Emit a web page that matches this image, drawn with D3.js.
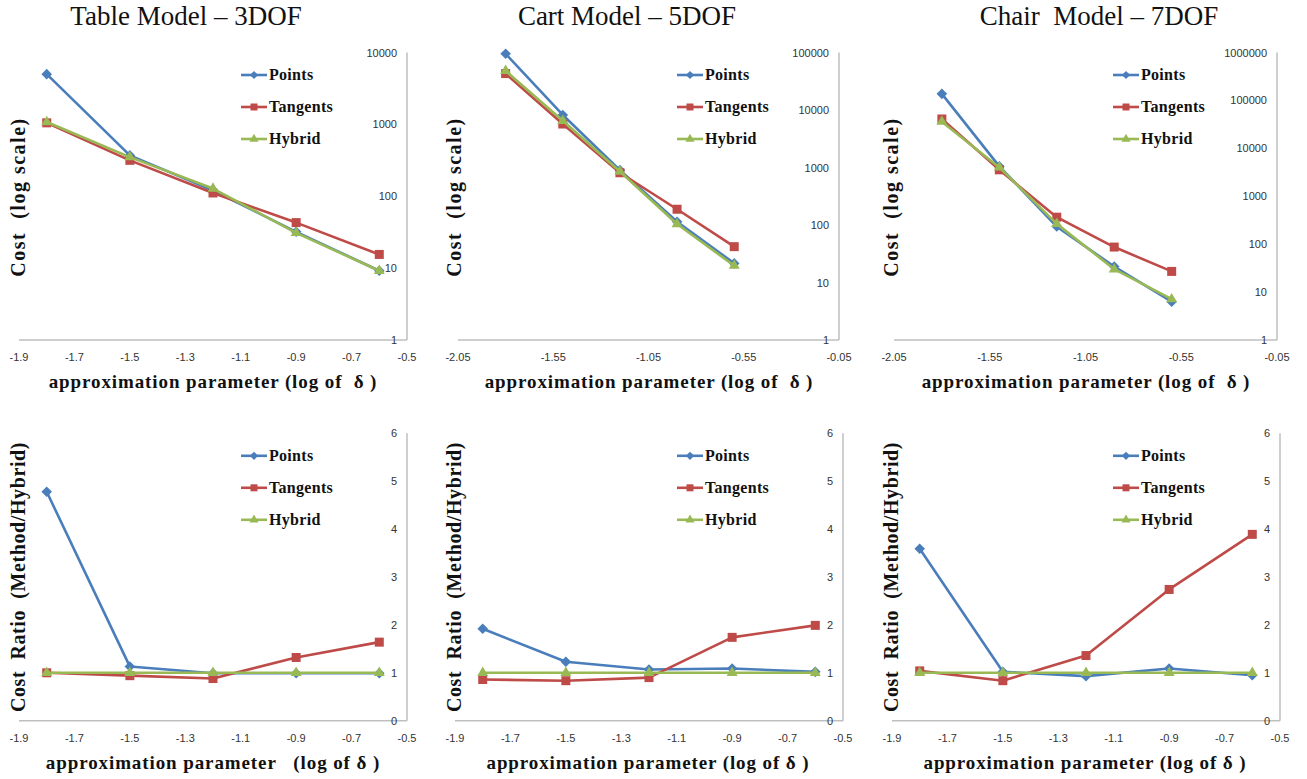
<!DOCTYPE html>
<html lang="en">
<head>
<meta charset="UTF-8">
<title>Cost vs approximation parameter</title>
<script src="https://d3js.org/d3.v7.min.js"></script>
<style>
  body { margin: 0; background: #fff; }
  text { white-space: pre; }
</style>
</head>
<body>
<div id="chart"></div>
<script>
// x positions (log of delta) shared by all panels
var xVals = [-1.8, -1.5, -1.2, -0.9, -0.6];

// top row: cost (log scale)
var tablePoints   = [5000, 370, 120, 32, 9.2];
var tableTangents = [1050, 316, 111, 43, 15.5];
var tableHybrid   = [1080, 350, 128, 31, 9.2];
var cartPoints    = [95000, 8200, 900, 114, 21.5];
var cartTangents  = [43000, 5700, 810, 188, 42];
var cartHybrid    = [48000, 6500, 850, 104, 19.6];
var chairPoints   = [137000, 4200, 233, 34, 6.3];
var chairTangents = [41000, 3560, 366, 87, 27];
var chairHybrid   = [36000, 4000, 265, 30, 7.1];

// bottom row: cost ratio (method / hybrid)
var tableRatioPoints   = [4.78, 1.13, 0.99, 0.99, 0.99];
var tableRatioTangents = [1.0, 0.94, 0.88, 1.32, 1.64];
var tableRatioHybrid   = [1, 1, 1, 1, 1];
var cartRatioPoints    = [1.92, 1.23, 1.07, 1.09, 1.02];
var cartRatioTangents  = [0.86, 0.835, 0.9, 1.74, 1.99];
var cartRatioHybrid    = [1, 1, 1, 1, 1];
var chairRatioPoints   = [3.59, 1.02, 0.93, 1.09, 0.95];
var chairRatioTangents = [1.04, 0.835, 1.36, 2.74, 3.89];
var chairRatioHybrid   = [1, 1, 1, 1, 1];

// tick labels
var xTicksA = [-1.9, -1.7, -1.5, -1.3, -1.1, -0.9, -0.7, -0.5];
var xTicksB = [-2.05, -1.55, -1.05, -0.55, -0.05];
var logTicks4 = [1, 10, 100, 1000, 10000];
var logTicks5 = [1, 10, 100, 1000, 10000, 100000];
var logTicks6 = [1, 10, 100, 1000, 10000, 100000, 1000000];
var ratioTicks = [0, 1, 2, 3, 4, 5, 6];

var seriesNames = ["Points", "Tangents", "Hybrid"];
var titles = ["Table Model \u2013 3DOF", "Cart Model \u2013 5DOF", "Chair  Model \u2013 7DOF"];

var colors = {Points: "#4A7EBB", Tangents: "#BE4B48", Hybrid: "#98B954"};

var W = 1307, H = 779;
var svg = d3.select("#chart").append("svg")
    .attr("width", W).attr("height", H)
    .style("display", "block");

// panel layout
var panels = [
  {x0: 19, x1: 407, top: 52.5, bot: 340, titleX: 186, log: true, yTicks: logTicks4,
   xTicks: xTicksA, data: [tablePoints, tableTangents, tableHybrid],
   ylab: "Cost  (log scale)", ylabX: 18, xlab: "approximation parameter (log of  \u03b4 )", xlabX: 213, legX: 241},
  {x0: 458, x1: 839, top: 52.5, bot: 340, titleX: 627, log: true, yTicks: logTicks5,
   xTicks: xTicksB, data: [cartPoints, cartTangents, cartHybrid],
   ylab: "Cost  (log scale)", ylabX: 454, xlab: "approximation parameter (log of  \u03b4 )", xlabX: 649, legX: 677},
  {x0: 894, x1: 1277, top: 52.5, bot: 340, titleX: 1099, log: true, yTicks: logTicks6,
   xTicks: xTicksB, data: [chairPoints, chairTangents, chairHybrid],
   ylab: "Cost  (log scale)", ylabX: 891, xlab: "approximation parameter (log of  \u03b4 )", xlabX: 1086, legX: 1113},
  {x0: 19, x1: 407, top: 433.3, bot: 720.7, log: false, yTicks: ratioTicks,
   xTicks: xTicksA, data: [tableRatioPoints, tableRatioTangents, tableRatioHybrid],
   ylab: "Cost  Ratio  (Method/Hybrid)", ylabX: 18, xlab: "approximation parameter   (log of \u03b4 )", xlabX: 213, legX: 241},
  {x0: 455, x1: 843, top: 433.3, bot: 720.7, log: false, yTicks: ratioTicks,
   xTicks: xTicksA, data: [cartRatioPoints, cartRatioTangents, cartRatioHybrid],
   ylab: "Cost  Ratio  (Method/Hybrid)", ylabX: 454, xlab: "approximation parameter (log of \u03b4 )", xlabX: 648, legX: 677},
  {x0: 892, x1: 1280, top: 433.3, bot: 720.7, log: false, yTicks: ratioTicks,
   xTicks: xTicksA, data: [chairRatioPoints, chairRatioTangents, chairRatioHybrid],
   ylab: "Cost  Ratio  (Method/Hybrid)", ylabX: 891, xlab: "approximation parameter (log of \u03b4 )", xlabX: 1085, legX: 1113}
];

// markers: diamond (rotated square), square, triangle
function symbolFor(name, big) {
  if (name === "Points") return d3.symbol(d3.symbolSquare, big ? 56 : 34)();
  if (name === "Tangents") return d3.symbol(d3.symbolSquare, big ? 81 : 49)();
  return d3.symbol(d3.symbolTriangle, big ? 52 : 36)();
}

panels.forEach(function(p, pi) {
  var g = svg.append("g");
  var xMin = p.xTicks[0], xMax = p.xTicks[p.xTicks.length - 1];
  var x = d3.scaleLinear().domain([xMin, xMax]).range([p.x0, p.x1]);
  var y = p.log
    ? d3.scaleLog().domain([1, p.yTicks[p.yTicks.length - 1]]).range([p.bot, p.top])
    : d3.scaleLinear().domain([0, 6]).range([p.bot, p.top]);

  // title
  if (p.titleX) {
    svg.append("text")
      .attr("x", p.titleX).attr("y", 25)
      .attr("text-anchor", "middle")
      .style("font-family", "'Liberation Serif', serif")
      .style("font-size", "27px")
      .style("fill", "#111")
      .text(titles[pi]);
  }

  // axis lines (bottom x, right y)
  g.append("line")
    .attr("x1", p.x0).attr("x2", p.x1)
    .attr("y1", p.bot).attr("y2", p.bot)
    .style("stroke", "#BFBFBF").style("stroke-width", 1.5);
  g.append("line")
    .attr("x1", p.x1).attr("x2", p.x1)
    .attr("y1", p.top).attr("y2", p.bot)
    .style("stroke", "#BFBFBF").style("stroke-width", 1.5);

  // x tick labels
  g.selectAll(".xt").data(p.xTicks).enter().append("text")
    .attr("x", function(d) { return x(d); })
    .attr("y", p.bot + 21)
    .attr("text-anchor", "middle")
    .style("font-family", "'Liberation Sans', sans-serif")
    .style("font-size", "11px")
    .style("fill", "#333")
    .text(function(d) { return String(d); });

  // y tick labels (inside the right axis)
  g.selectAll(".yt").data(p.yTicks).enter().append("text")
    .attr("x", p.x1 - 10)
    .attr("y", function(d) { return y(d) + 4; })
    .attr("text-anchor", "end")
    .style("font-family", "'Liberation Sans', sans-serif")
    .style("font-size", "11px")
    .style("fill", "#333")
    .text(function(d) { return String(d); });

  // series lines and markers
  seriesNames.forEach(function(name, si) {
    var vals = p.data[si];
    var pts = xVals.map(function(xv, i) { return [x(xv), y(vals[i])]; });
    g.append("path")
      .attr("d", d3.line()(pts))
      .style("fill", "none")
      .style("stroke", colors[name])
      .style("stroke-width", 2.6)
      .style("stroke-linejoin", "round");
    g.selectAll(".m" + si).data(pts).enter().append("path")
      .attr("d", symbolFor(name, true))
      .attr("transform", function(d) {
        return "translate(" + d[0] + "," + d[1] + ")" + (name === "Points" ? " rotate(45)" : "");
      })
      .style("fill", colors[name]);
  });

  // legend
  var legTop = p.top + 22.5;
  seriesNames.forEach(function(name, si) {
    var ly = legTop + si * 32;
    g.append("line")
      .attr("x1", p.legX).attr("x2", p.legX + 26)
      .attr("y1", ly).attr("y2", ly)
      .style("stroke", colors[name]).style("stroke-width", 2.6);
    g.append("path")
      .attr("d", symbolFor(name, false))
      .attr("transform", "translate(" + (p.legX + 13) + "," + ly + ")" + (name === "Points" ? " rotate(45)" : ""))
      .style("fill", colors[name]);
    g.append("text")
      .attr("x", p.legX + 28).attr("y", ly + 5)
      .style("font-family", "'Liberation Serif', serif")
      .style("font-weight", "bold")
      .style("font-size", "16px")
      .style("letter-spacing", "0.3px")
      .style("fill", "#111")
      .text(name);
  });

  // y axis title
  svg.append("text")
    .attr("transform", "translate(" + (p.ylabX + 7) + "," + (p.log ? 197 : 577) + ") rotate(-90)")
    .attr("text-anchor", "middle")
    .style("font-family", "'Liberation Serif', serif")
    .style("font-weight", "bold")
    .style("font-size", "20px")
    .style("letter-spacing", p.log ? "1.5px" : "0.6px")
    .style("fill", "#111")
    .text(p.ylab);

  // x axis title
  svg.append("text")
    .attr("x", p.xlabX)
    .attr("y", p.log ? 388 : 769)
    .attr("text-anchor", "middle")
    .style("font-family", "'Liberation Serif', serif")
    .style("font-weight", "bold")
    .style("font-size", "19px")
    .style("letter-spacing", "0.9px")
    .style("fill", "#111")
    .text(p.xlab);
});
</script>
</body>
</html>
